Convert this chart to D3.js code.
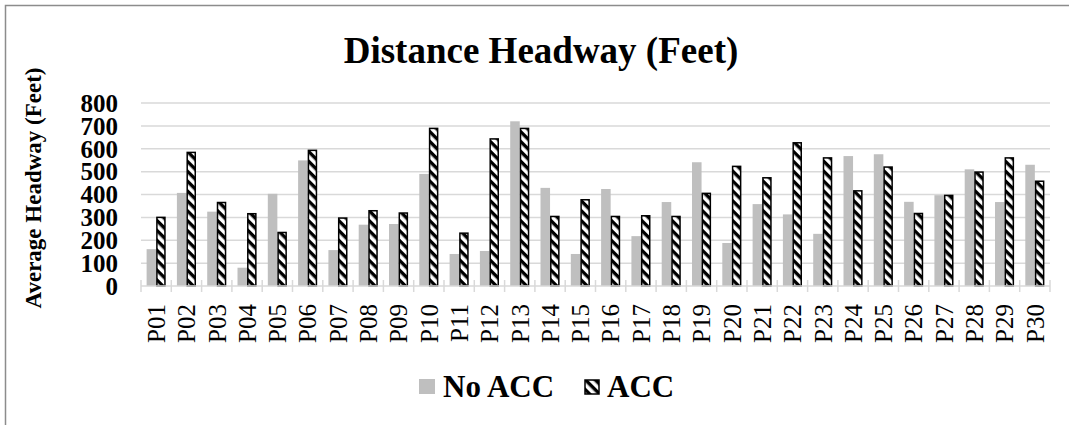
<!DOCTYPE html>
<html>
<head>
<meta charset="utf-8">
<script src="https://cdn.jsdelivr.net/npm/d3@7"></script>
<style>
  html, body { margin: 0; padding: 0; background: #fff; }
  svg { display: block; }
</style>
</head>
<body>
<svg id="chart" width="1069" height="425"></svg>
<script>
const categories = ["P01","P02","P03","P04","P05","P06","P07","P08","P09","P10",
  "P11","P12","P13","P14","P15","P16","P17","P18","P19","P20",
  "P21","P22","P23","P24","P25","P26","P27","P28","P29","P30"];
const seriesNames = ["No ACC", "ACC"];
const noAcc = [161, 407, 325, 80, 403, 549, 157, 268, 271, 490,
  140, 153, 720, 429, 140, 424, 218, 367, 541, 188,
  358, 313, 228, 568, 576, 368, 397, 510, 367, 530];
const acc = [300, 584, 365, 316, 234, 593, 297, 329, 319, 689,
  231, 643, 689, 304, 377, 304, 307, 304, 405, 523,
  473, 626, 560, 416, 520, 317, 396, 498, 560, 458];
const yTicks = [0, 100, 200, 300, 400, 500, 600, 700, 800];
const title = "Distance Headway (Feet)";
const yTitle = "Average Headway (Feet)";

(function () {
const svg = d3.select("#chart");
const serif = "'Liberation Serif', 'Times New Roman', serif";

// pattern
const defs = svg.append("defs");
const pat = defs.append("pattern")
  .attr("id", "hatch")
  .attr("patternUnits", "userSpaceOnUse")
  .attr("width", 7).attr("height", 7)
  .attr("patternTransform", "rotate(45)");
pat.append("rect").attr("width", 7).attr("height", 7).attr("fill", "#fff");
pat.append("rect").attr("width", 7).attr("height", 3.4).attr("fill", "#000");

// border
svg.append("rect")
  .attr("x", 5.5).attr("y", 5.5).attr("width", 1100).attr("height", 440)
  .attr("fill", "none").attr("stroke", "#8c8c8c").attr("stroke-width", 1.5);

const pLeft = 141, pRight = 1050, pTop = 103, pBottom = 286;

const x0 = d3.scaleBand().domain(categories).range([pLeft, pRight])
  .paddingInner(0.37).paddingOuter(0.185);
const x1 = d3.scaleBand().domain(seriesNames).range([0, x0.bandwidth()]);
const y = d3.scaleLinear().domain([0, 800]).range([pBottom, pTop]);

// gridlines
svg.append("g").selectAll("line").data(yTicks.filter(d => d > 0)).join("line")
  .attr("x1", pLeft).attr("x2", pRight)
  .attr("y1", d => y(d)).attr("y2", d => y(d))
  .attr("stroke", "#d9d9d9").attr("stroke-width", 1.5);

// y tick labels
svg.append("g").selectAll("text").data(yTicks).join("text")
  .attr("x", 118).attr("y", d => y(d)).attr("dy", "0.35em")
  .attr("text-anchor", "end")
  .attr("font-family", serif).attr("font-weight", "bold").attr("font-size", 25)
  .text(d => d);

// bars
const groups = svg.append("g").selectAll("g").data(categories).join("g")
  .attr("transform", d => `translate(${x0(d)},0)`);
groups.append("rect")
  .attr("x", x1("No ACC")).attr("width", x1.bandwidth())
  .attr("y", (d, i) => y(noAcc[i])).attr("height", (d, i) => pBottom - y(noAcc[i]))
  .attr("fill", "#bfbfbf");
groups.append("rect")
  .attr("x", x1("ACC") + 0.75).attr("width", x1.bandwidth() - 1.5)
  .attr("y", (d, i) => y(acc[i])).attr("height", (d, i) => pBottom - y(acc[i]))
  .attr("fill", "url(#hatch)").attr("stroke", "#000").attr("stroke-width", 1.5);

// x axis
const xAxis = svg.append("g");
xAxis.append("line").attr("x1", pLeft).attr("x2", pRight)
  .attr("y1", pBottom).attr("y2", pBottom)
  .attr("stroke", "#d9d9d9").attr("stroke-width", 1.5);
const step = x0.step();
const boundaries = d3.range(categories.length + 1).map(i => pLeft + i * step);
xAxis.selectAll("line.tick").data(boundaries).join("line").attr("class", "tick")
  .attr("x1", d => d).attr("x2", d => d)
  .attr("y1", pBottom - 6).attr("y2", pBottom + 6)
  .attr("stroke", "#d9d9d9").attr("stroke-width", 1.5);
xAxis.selectAll("text").data(categories).join("text")
  .attr("transform", d => `translate(${x0(d) + x0.bandwidth() / 2},304) rotate(-90)`)
  .attr("dy", "0.35em")
  .attr("text-anchor", "end")
  .attr("font-family", serif).attr("font-size", 25)
  .text(d => d);

// title
svg.append("text").attr("x", 541).attr("y", 63)
  .attr("text-anchor", "middle")
  .attr("font-family", serif).attr("font-weight", "bold").attr("font-size", 37)
  .text(title);

// y title
svg.append("text")
  .attr("transform", "translate(41,188) rotate(-90)")
  .attr("text-anchor", "middle")
  .attr("font-family", serif).attr("font-weight", "bold").attr("font-size", 23)
  .text(yTitle);

// legend
const legend = svg.append("g");
legend.append("rect").attr("x", 419).attr("y", 379).attr("width", 16).attr("height", 15)
  .attr("fill", "#bfbfbf");
legend.append("text").attr("x", 443).attr("y", 397)
  .attr("font-family", serif).attr("font-weight", "bold").attr("font-size", 31)
  .text(seriesNames[0]);
legend.append("rect").attr("x", 585).attr("y", 380).attr("width", 14).attr("height", 14)
  .attr("fill", "url(#hatch)").attr("stroke", "#000").attr("stroke-width", 1.5);
legend.append("text").attr("x", 607).attr("y", 397)
  .attr("font-family", serif).attr("font-weight", "bold").attr("font-size", 31)
  .text(seriesNames[1]);
})();
</script>
</body>
</html>
